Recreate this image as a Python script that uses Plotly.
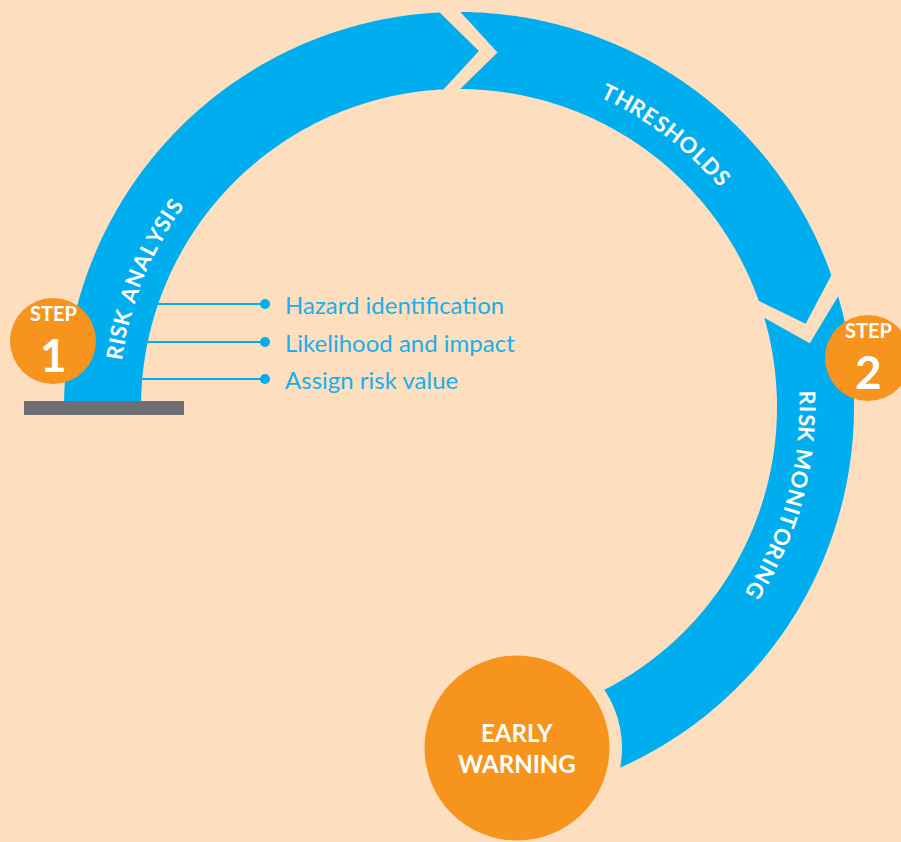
import numpy as np
import plotly.graph_objects as go

W, H = 901, 842
BG = "#FDDFBF"
BLUE = "#00AEEF"
TEXT_BLUE = "#1AAFE8"
ORANGE = "#F7941E"
GRAY = "#6D6E71"
FONT = "Lato"

# ---- data ----
segment_labels = ["RISK ANALYSIS", "THRESHOLDS", "RISK MONITORING"]
segment_start = [180.0, 89.8, 16.3]      # degrees (math convention)
segment_end = [92.8, 19.5, -80.0]
label_center_angle = [158.0, 52.8, -15.3]
segment_has_notch = [False, True, True]
segment_has_tip = [True, True, False]

step_labels = ["STEP", "STEP"]
step_numbers = ["1", "2"]
sub_items = ["Hazard identification", "Likelihood and impact", "Assign risk value"]
ew_lines = ["EARLY", "WARNING"]

# ---- geometry / style ----
CX, CY = 459, 407
R_OUT, R_IN = 395, 318
R_MID = (R_OUT + R_IN) / 2
R_TEXT = 349
DEPTH = 6.0
step_centers = [(53, 341), (868, 358)]
STEP_R = 43
sub_item_y = [304, 342, 379]
DOT_X, TEXT_X = 265, 283
EW_C, EW_R, EW_GAP_R = (517, 748), 92.5, 105


def pt(theta, r):
    t = np.radians(theta)
    return CX + r * np.cos(t), CY - r * np.sin(t)


def seg_path(a0, a1, notch, tip):
    th = np.linspace(a0, a1, 120)
    pts = [pt(t, R_OUT) for t in th]
    if tip:
        pts.append(pt(a1 - DEPTH, R_MID))
    pts += [pt(t, R_IN) for t in th[::-1]]
    if notch:
        pts.append(pt(a0 - DEPTH, R_MID))
    return "M " + " L ".join(f"{x:.2f},{y:.2f}" for x, y in pts) + " Z"


def circle(cx, cy, r, color):
    return dict(type="circle", xref="x", yref="y", x0=cx - r, x1=cx + r,
                y0=cy - r, y1=cy + r, fillcolor=color, line=dict(width=0))


shapes = []
for a0, a1, n, t in zip(segment_start, segment_end, segment_has_notch, segment_has_tip):
    shapes.append(dict(type="path", path=seg_path(a0, a1, n, t), fillcolor=BLUE,
                       line=dict(width=0), xref="x", yref="y"))

# gap around early warning circle
shapes.append(circle(EW_C[0], EW_C[1], EW_GAP_R, BG))
shapes.append(circle(EW_C[0], EW_C[1], EW_R, ORANGE))

# base bar
shapes.append(dict(type="rect", xref="x", yref="y", x0=24, x1=184, y0=401, y1=415,
                   fillcolor=GRAY, line=dict(width=0)))

# step circles
for (sx, sy) in step_centers:
    shapes.append(circle(sx, sy, STEP_R, ORANGE))

# sub-item connector lines and dots
for y in sub_item_y:
    x_start = CX - np.sqrt(R_IN ** 2 - (CY - y) ** 2)
    shapes.append(dict(type="line", xref="x", yref="y", x0=x_start, x1=DOT_X, y0=y, y1=y,
                       line=dict(color=BLUE, width=2)))
    shapes.append(circle(DOT_X, y, 5, BLUE))

annotations = []

# curved labels (per character along arc)
char_w = {"R": .62, "I": .28, "S": .54, "K": .62, " ": .30, "A": .70, "N": .76, "L": .52,
          "Y": .64, "T": .60, "H": .76, "E": .57, "O": .82, "D": .76, "M": .90, "G": .78}
ARC_FS = 22
TRACK = 1.4
for label, ac in zip(segment_labels, label_center_angle):
    widths = [char_w.get(c, .6) * ARC_FS + TRACK for c in label]
    total = sum(widths)
    s = -total / 2
    for c, w in zip(label, widths):
        sc = s + w / 2
        s += w
        if c == " ":
            continue
        th = ac - np.degrees(sc / R_TEXT)
        x, y = pt(th, R_TEXT)
        annotations.append(dict(x=x, y=y, xref="x", yref="y", text=c, showarrow=False,
                                textangle=90 - th, xanchor="center", yanchor="middle",
                                font=dict(family=FONT, size=ARC_FS, color="white", weight="bold")))

# step texts: label box sits right above the number box
for (sx, sy), lab, num in zip(step_centers, step_labels, step_numbers):
    annotations.append(dict(x=sx, y=sy - 15, xref="x", yref="y", text=lab, showarrow=False,
                            xanchor="center", yanchor="bottom", borderpad=0,
                            font=dict(family=FONT, size=20, color="white", weight="bold")))
    annotations.append(dict(x=sx, y=sy - 15, xref="x", yref="y", text=num, showarrow=False,
                            xanchor="center", yanchor="top", borderpad=0,
                            font=dict(family=FONT, size=46, color="white", weight="bold")))

# sub items
for txt, y in zip(sub_items, sub_item_y):
    annotations.append(dict(x=TEXT_X, y=y, xref="x", yref="y", text=txt, showarrow=False,
                            xanchor="left", yanchor="middle",
                            font=dict(family=FONT, size=24, color=TEXT_BLUE)))

# early warning
annotations.append(dict(x=EW_C[0], y=EW_C[1], xref="x", yref="y",
                        text="<br>".join(ew_lines), showarrow=False, align="center",
                        xanchor="center", yanchor="middle",
                        font=dict(family=FONT, size=24, color="white", weight="bold")))

fig = go.Figure()
fig.update_layout(
    width=W, height=H, margin=dict(l=0, r=0, t=0, b=0),
    paper_bgcolor=BG, plot_bgcolor=BG, showlegend=False,
    xaxis=dict(range=[0, W], visible=False, fixedrange=True),
    yaxis=dict(range=[H, 0], visible=False, fixedrange=True),
    shapes=shapes, annotations=annotations,
)
fig.write_html("out.html", config={"displayModeBar": False},
               post_script="document.body.style.margin='0';document.body.style.padding='0';"
                           "document.body.style.overflow='hidden';"
                           "document.body.style.background='" + BG + "';")
